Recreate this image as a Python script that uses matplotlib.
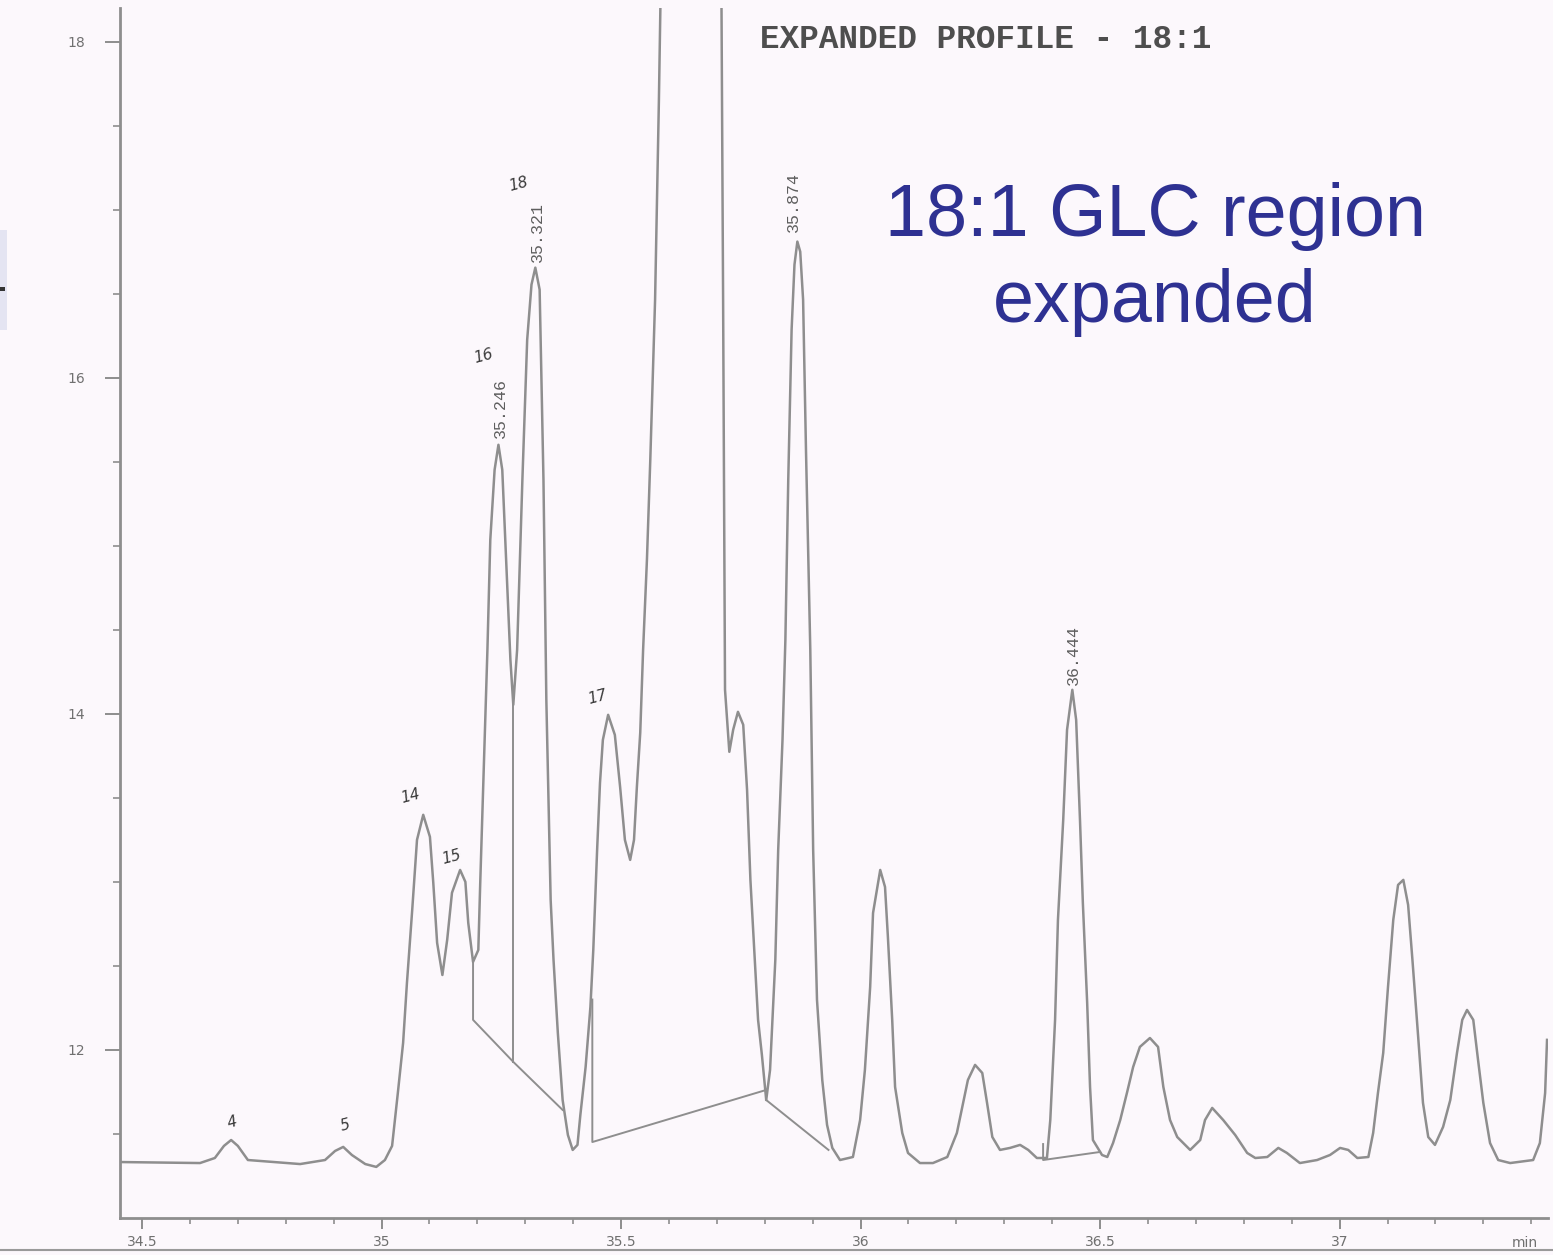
import matplotlib.pyplot as plt
import matplotlib.patches as mpatches
from matplotlib.lines import Line2D
import numpy as np

# Retention time (min) and detector signal
trace_time = [34.454, 34.621, 34.652, 34.671, 34.686, 34.700, 34.721, 34.830, 34.882, 34.903,
              34.920, 34.938, 34.966, 34.989, 35.007, 35.022, 35.034, 35.045, 35.053, 35.064,
              35.074, 35.087, 35.101, 35.108, 35.116, 35.127, 35.137, 35.147, 35.164, 35.175,
              35.181, 35.191, 35.202, 35.206, 35.212, 35.221, 35.227, 35.236, 35.244, 35.252,
              35.260, 35.269, 35.275, 35.283, 35.294, 35.304, 35.313, 35.321, 35.330, 35.338,
              35.344, 35.353, 35.359, 35.368, 35.378, 35.389, 35.399, 35.409, 35.415, 35.426,
              35.436, 35.442, 35.450, 35.456, 35.462, 35.473, 35.487, 35.498, 35.508, 35.519,
              35.527, 35.533, 35.540, 35.546, 35.554, 35.561, 35.571, 35.579, 35.584, 35.645,
              35.709, 35.713, 35.717, 35.726, 35.734, 35.744, 35.755, 35.763, 35.770, 35.780,
              35.786, 35.794, 35.803, 35.811, 35.822, 35.828, 35.837, 35.843, 35.849, 35.856,
              35.862, 35.868, 35.874, 35.880, 35.886, 35.895, 35.901, 35.909, 35.920, 35.930,
              35.941, 35.957, 35.984, 35.999, 36.009, 36.020, 36.026, 36.041, 36.051, 36.057,
              36.066, 36.072, 36.087, 36.099, 36.124, 36.151, 36.181, 36.201, 36.214, 36.224,
              36.239, 36.254, 36.264, 36.275, 36.291, 36.312, 36.333, 36.350, 36.368, 36.389,
              36.396, 36.406, 36.412, 36.423, 36.431, 36.442, 36.450, 36.458, 36.464, 36.473,
              36.479, 36.485, 36.504, 36.515, 36.527, 36.542, 36.556, 36.569, 36.583, 36.604,
              36.621, 36.632, 36.646, 36.661, 36.688, 36.709, 36.719, 36.734, 36.757, 36.782,
              36.807, 36.824, 36.849, 36.872, 36.890, 36.917, 36.953, 36.980, 37.001, 37.018,
              37.037, 37.060, 37.070, 37.080, 37.091, 37.101, 37.112, 37.122, 37.133, 37.143,
              37.152, 37.164, 37.174, 37.185, 37.199, 37.216, 37.231, 37.245, 37.256, 37.266,
              37.279, 37.289, 37.300, 37.314, 37.331, 37.356, 37.404, 37.418, 37.429, 37.433]
trace_signal = [11.333, 11.327, 11.357, 11.429, 11.464, 11.429, 11.345, 11.321, 11.345, 11.399,
                11.423, 11.375, 11.321, 11.304, 11.345, 11.429, 11.744, 12.042, 12.399, 12.833,
                13.250, 13.399, 13.268, 12.994, 12.637, 12.446, 12.655, 12.935, 13.071, 13.000,
                12.756, 12.524, 12.595, 12.994, 13.548, 14.381, 15.036, 15.452, 15.601, 15.452,
                14.917, 14.321, 14.054, 14.381, 15.393, 16.226, 16.554, 16.655, 16.524, 15.393,
                14.083, 12.893, 12.536, 12.101, 11.702, 11.494, 11.405, 11.435, 11.613, 11.899,
                12.256, 12.595, 13.190, 13.589, 13.845, 13.994, 13.875, 13.565, 13.250, 13.131,
                13.250, 13.565, 13.887, 14.381, 14.917, 15.512, 16.464, 17.655, 18.548, 30.000,
                18.548, 16.464, 14.143, 13.774, 13.905, 14.012, 13.935, 13.548, 13.012, 12.494,
                12.179, 11.970, 11.702, 11.881, 12.536, 13.190, 13.845, 14.440, 15.393, 16.286,
                16.673, 16.810, 16.750, 16.464, 15.571, 14.381, 13.190, 12.298, 11.821, 11.554,
                11.417, 11.345, 11.363, 11.583, 11.881, 12.375, 12.815, 13.071, 12.970, 12.673,
                12.179, 11.780, 11.506, 11.387, 11.327, 11.327, 11.363, 11.506, 11.685, 11.821,
                11.911, 11.863, 11.685, 11.482, 11.405, 11.417, 11.435, 11.405, 11.357, 11.357,
                11.583, 12.179, 12.774, 13.369, 13.905, 14.143, 13.964, 13.369, 12.875, 12.280,
                11.780, 11.464, 11.375, 11.363, 11.446, 11.583, 11.744, 11.899, 12.018, 12.071,
                12.018, 11.780, 11.583, 11.482, 11.405, 11.464, 11.583, 11.655, 11.583, 11.494,
                11.387, 11.357, 11.363, 11.417, 11.387, 11.327, 11.345, 11.375, 11.417, 11.405,
                11.357, 11.363, 11.506, 11.744, 11.982, 12.375, 12.774, 12.982, 13.012, 12.863,
                12.536, 12.077, 11.685, 11.482, 11.435, 11.542, 11.702, 11.982, 12.179, 12.238,
                12.179, 11.940, 11.685, 11.446, 11.345, 11.327, 11.345, 11.446, 11.744, 12.060]

# integrator baseline / drop lines
drop_lines = [
    ([35.191, 35.191, 35.275, 35.378], [12.524, 12.179, 11.929, 11.643]),
    ([35.275, 35.275], [14.054, 11.929]),
    ([35.440, 35.440, 35.803], [12.300, 11.452, 11.762]),
    ([35.803, 35.933], [11.702, 11.405]),
    ([36.381, 36.381, 36.500], [11.440, 11.345, 11.393]),
]

# retention time labels printed by the integrator
rt_labels = ['35.246', '35.321', '35.874', '36.444']
rt_x = [35.248, 35.325, 35.859, 36.444]
rt_y = [15.64, 16.69, 16.87, 14.17]

# handwritten peak numbers
hand_labels = ['4', '5', '14', '15', '16', '18', '17']
hand_x = [34.688, 34.924, 35.060, 35.147, 35.212, 35.285, 35.450]
hand_y = [11.57, 11.55, 13.51, 13.15, 16.13, 17.15, 14.10]

xtick_vals = [34.5, 35, 35.5, 36, 36.5, 37]
xtick_text = ['34.5', '35', '35.5', '36', '36.5', '37']
ytick_vals = [12, 14, 16, 18]
ytick_text = ['12', '14', '16', '18']

bg = '#fcf8fc'
grey = '#8e8e8e'

fig = plt.figure(figsize=(15.53, 12.55), dpi=100, facecolor=bg)
ax = fig.add_axes([120 / 1553, 1 - 1218 / 1255, 1428 / 1553, 1210 / 1255])
ax.set_facecolor(bg)

ax.plot(trace_time, trace_signal, color=grey, lw=1.8, solid_joinstyle='round')
for xs, ys in drop_lines:
    ax.plot(xs, ys, color=grey, lw=1.4)

for lab, x, y in zip(rt_labels, rt_x, rt_y):
    ax.text(x, y, lab, rotation=90, ha='center', va='bottom', fontsize=12,
            family='Liberation Mono', color='#5e5e5e')
for lab, x, y in zip(hand_labels, hand_x, hand_y):
    ax.text(x, y, lab, ha='center', va='center', fontsize=11, style='italic',
            color='#3a3a3a', rotation=15)

ax.set_xlim(34.454, 37.435)
ax.set_ylim(11.0, 18.2)

ax.set_xticks(xtick_vals)
ax.set_xticklabels(xtick_text)
ax.set_xticks(np.arange(34.5, 37.45, 0.1), minor=True)
ax.set_yticks(ytick_vals)
ax.set_yticklabels(ytick_text)
ax.set_yticks(np.arange(11.5, 18.2, 0.5), minor=True)

ax.tick_params(axis='x', which='major', direction='out', length=8, width=1.4, color=grey,
               labelsize=10, labelcolor='#707070', pad=4)
ax.tick_params(axis='x', which='minor', direction='out', length=4, width=1.2, color=grey)
ax.tick_params(axis='y', which='major', direction='out', length=11, width=1.4, color=grey,
               labelsize=10, labelcolor='#707070', pad=14)
ax.tick_params(axis='y', which='minor', direction='out', length=5, width=1.2, color=grey)

for side in ['top', 'right']:
    ax.spines[side].set_visible(False)
for side in ['left', 'bottom']:
    ax.spines[side].set_color(grey)
    ax.spines[side].set_linewidth(2)

ax.text(0.984, -0.021, 'min', transform=ax.transAxes, ha='center', va='center',
        fontsize=10, color='#707070')

ax.text(0.448, 0.974, 'EXPANDED PROFILE - 18:1', transform=ax.transAxes, ha='left',
        va='center', fontsize=23.5, family='Liberation Mono', weight='bold', color='#4e4e4e')

ax.text(0.7248, 0.792, '18:1 GLC region\nexpanded', transform=ax.transAxes, ha='center',
        va='center', fontsize=53, family='Liberation Sans', color='#2e3192', linespacing=1.32)

# scanner edge at the bottom and the small tab at the left border
fig.add_artist(Line2D([0, 1], [1 - 1250 / 1255, 1 - 1250 / 1255], color='#9a9a9a', lw=1.5))
fig.add_artist(mpatches.Rectangle((0, 1 - 330 / 1255), 7 / 1553, 100 / 1255,
                                  color='#e4e4f2', lw=0))
fig.add_artist(mpatches.Rectangle((0, 1 - 291 / 1255), 5 / 1553, 4 / 1255,
                                  color='#333333', lw=0))

fig.savefig('out.png', dpi=100, facecolor=bg)
